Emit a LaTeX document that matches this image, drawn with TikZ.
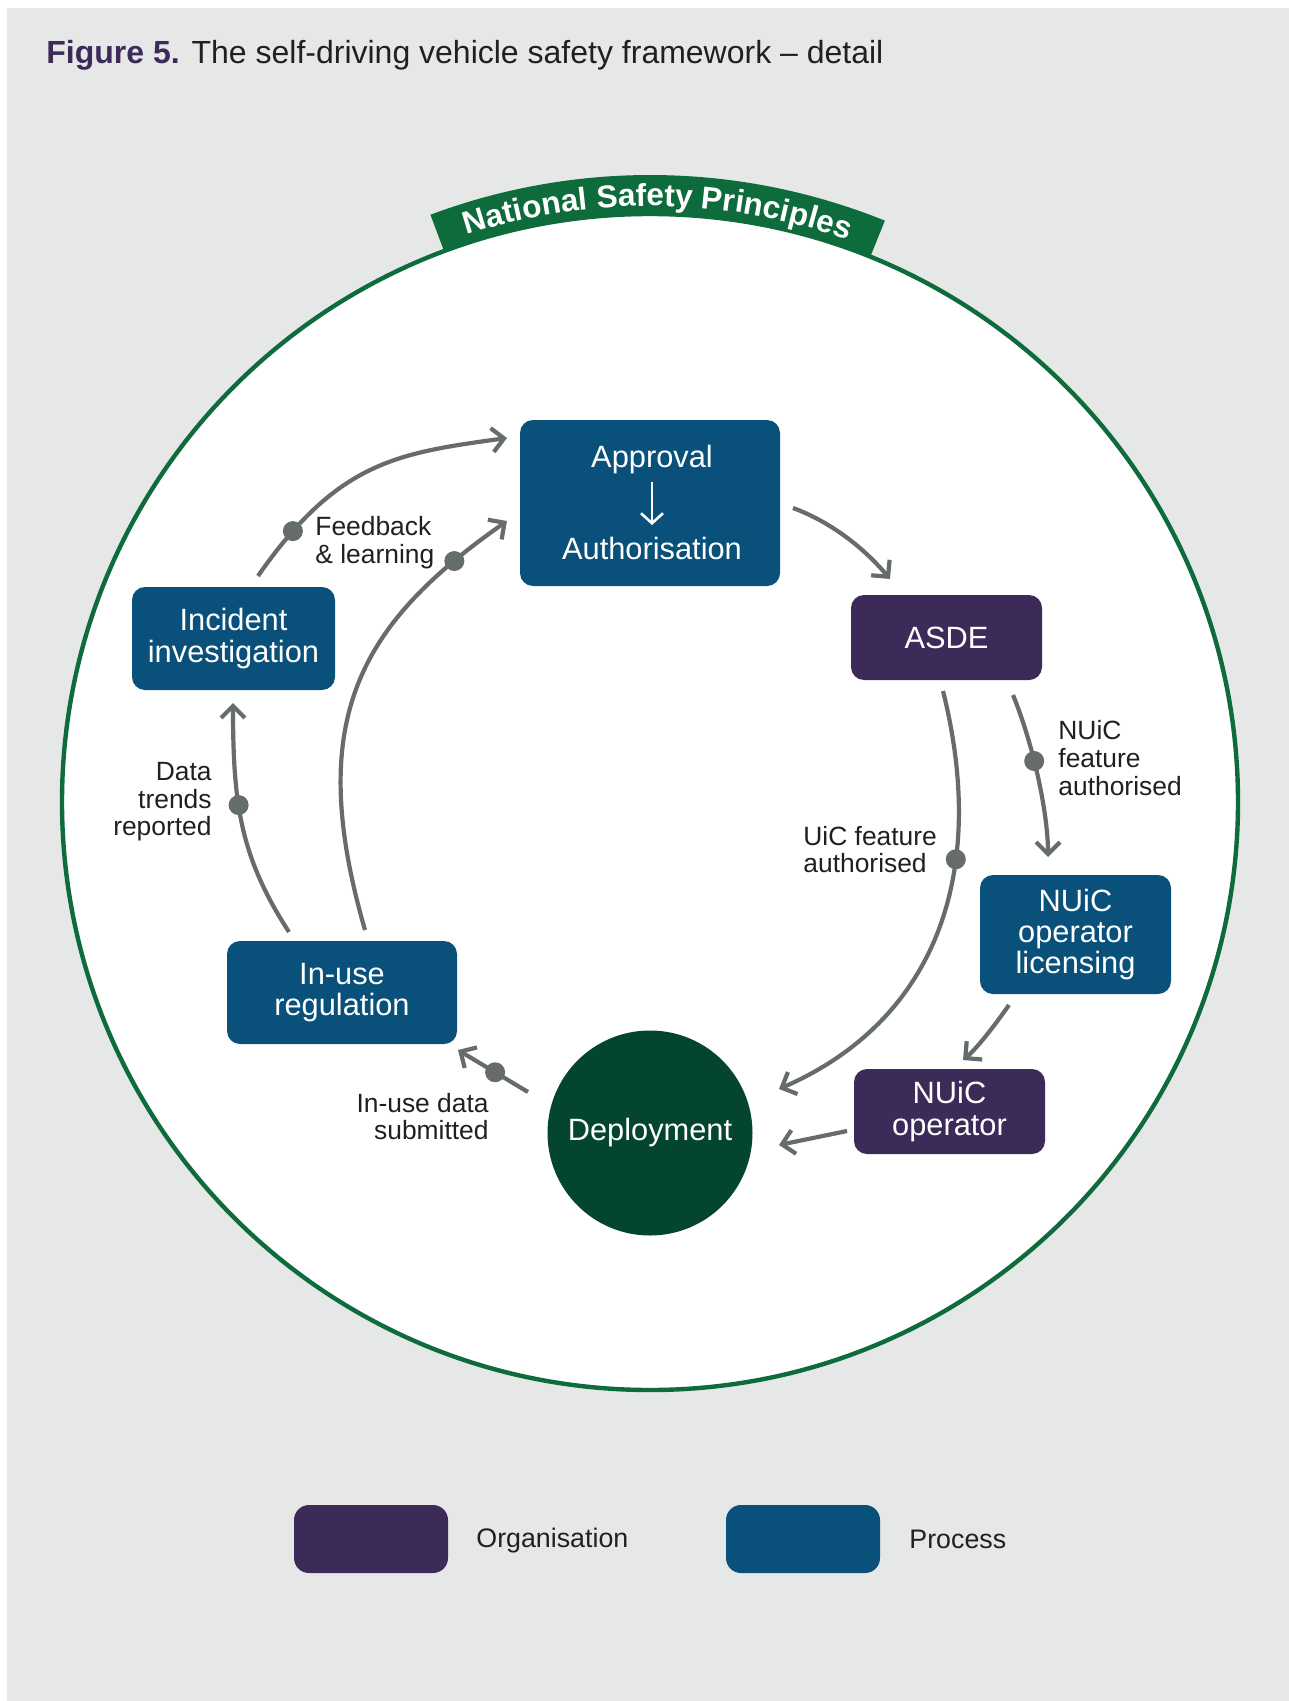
\documentclass[tikz,border=0pt]{standalone}
\usepackage{fontspec}
\setmainfont{Liberation Sans}
\usetikzlibrary{arrows.meta,calc,decorations.text}
\definecolor{bggrey}{RGB}{230,232,231}
\definecolor{ringgreen}{RGB}{14,107,60}
\definecolor{depgreen}{RGB}{4,69,50}
\definecolor{procblue}{RGB}{9,80,122}
\definecolor{orgpurple}{RGB}{60,42,88}
\definecolor{linegrey}{RGB}{102,108,108}
\definecolor{textdark}{RGB}{35,31,32}
\newcommand\myNodeFont{\fontsize{15.4}{15.7}\selectfont}
\newcommand\myLblFont{\fontsize{13.2}{13.8}\selectfont}
\begin{document}
\begin{tikzpicture}[x=0.5pt,y=0.5pt,
  box/.style={rectangle, rounded corners=6.5pt, inner sep=0pt, align=center, text=white, font=\myNodeFont},
  proc/.style={box, fill=procblue},
  org/.style={box, fill=orgpurple},
  conn/.style={draw=linegrey, line width=2.1pt, -{Straight Barb[length=6pt,width=12pt]}},
  gdot/.style={circle, fill=linegrey, inner sep=0pt, minimum size=10pt},
  lbl/.style={font=\myLblFont, text=textdark, inner sep=0pt},
  legbox/.style={rounded corners=7.5pt, minimum width=77pt, minimum height=34pt, inner sep=0pt}
]
\useasboundingbox (0,0) rectangle (1289,-1701);
\fill[bggrey] (7,-8) rectangle (1289,-1701);

% title
\node[anchor=base west, inner sep=0pt] (title) at (46,-64)
  {\fontsize{16}{19}\selectfont\textcolor{orgpurple}{\bfseries Figure 5.} \textcolor{textdark}{The self-driving vehicle safety framework – detail}};

% ring
\coordinate (cc) at (650,-802);
\draw[ringgreen, line width=2.2pt, fill=white] (cc) circle[radius=588];
\fill[ringgreen] ($(cc)+(68:588)$) arc[start angle=68, end angle=110.5, radius=588]
  -- ($(cc)+(110.5:627)$) arc[start angle=110.5, end angle=68, radius=627] -- cycle;
\path[decorate, decoration={text along path, text align=center, text color=white,
  text={|\bfseries\fontsize{15.8}{16}\selectfont|National Safety Principles}}]
  ($(cc)+(110.5:596)$) arc[start angle=110.5, end angle=68, radius=596];

% nodes
\node[proc, minimum width=130pt, minimum height=83pt] (app) at (650,-503) {};
\node[box, inner sep=0pt] (apv) at (652,-460) {Approval};
\node[box, inner sep=0pt] (aut) at (652,-548) {Authorisation};
\draw[white, line width=1.3pt, -{Straight Barb[length=5pt,width=11pt]}, shorten <=11pt, shorten >=11.5pt]
  (apv.center) -- (aut.center);

\node[org, minimum width=95.5pt, minimum height=42.5pt] (asde) at (946.5,-637.5) {ASDE};
\node[proc, minimum width=95.5pt, minimum height=59.5pt] (lic) at (1075.5,-934.5) {NUiC\\operator\\licensing};
\node[org, minimum width=95.5pt, minimum height=42.5pt] (op) at (949.5,-1111.5) {NUiC\\operator};
\node[circle, fill=depgreen, minimum size=102.5pt, inner sep=0pt, text=white, font=\myNodeFont] (dep) at (650,-1133) {Deployment};
\node[proc, minimum width=115pt, minimum height=51.5pt] (reg) at (342,-992.5) {In-use\\regulation};
\node[proc, minimum width=101.5pt, minimum height=51.5pt] (inc) at (233.5,-638.5) {Incident\\investigation};

% connectors
\draw[conn] ($(inc)+(24.5,62.5)$) .. controls +(80,115) and +(-109,-15) .. ($(app)+(-143,65)$)
  node[gdot, pos=0.15] (d1) {};
\draw[conn] ($(reg)+(23,62.5)$) .. controls +(-61,211) and +(-147,-103) .. ($(app)+(-143,-18)$)
  node[gdot, pos=0.87] (d2) {};
\draw[conn] ($(reg)+(-53,60.5)$) .. controls +(-49,75.5) and +(0,-100) .. ($(inc)+(-0.5,-64.5)$)
  node[gdot, pos=0.6] (d3) {};
\draw[conn] ($(dep)+(-122,41)$) -- ($(reg)+(116,-57.5)$)
  node[gdot, pos=0.47] (d4) {};
\draw[conn] ($(app)+(143,-5)$) .. controls +(38,-14) and +(-26,31) .. ($(asde)+(-56.5,58.5)$);
\draw[conn] ($(asde)+(-3.5,-53.5)$) .. controls +(46,-184) and +(156,68) .. ($(dep)+(129,44)$)
  node[gdot, pos=0.33] (d5) {};
\draw[conn] ($(asde)+(66.5,-57.5)$) .. controls +(22.5,-55.6) and +(0,40) .. ($(lic)+(-27.5,77.5)$)
  node[gdot, pos=0.38] (d6) {};
\draw[conn] ($(lic)+(-66.5,-70.5)$) .. controls +(-11.5,-16.4) and +(15.3,12.9) .. ($(op)+(13.5,51.5)$);
\draw[conn] ($(op)+(-102.5,-19.5)$) -- ($(dep)+(129,-12)$);

% labels
\node[lbl, anchor=west, align=left] (lfb) at (315,-542.5) {Feedback\\\& learning};
\node[lbl, anchor=east, align=right] (ldt) at (212,-802) {Data\\trends\\reported};
\node[lbl, anchor=west, align=left] (lnf) at (1058,-758) {NUiC\\feature\\authorised};
\node[lbl, anchor=west, align=left] (luf) at (803,-849.5) {UiC feature\\authorised};
\node[lbl, anchor=east, align=right] (lid) at (489,-1116.5) {In-use data\\submitted};

% legend
\node[legbox, fill=orgpurple] (legorg) at (371,-1539) {};
\node[lbl, anchor=west, font=\fontsize{13.4}{14}\selectfont] (legorgt) at (476,-1541) {Organisation};
\node[legbox, fill=procblue] (legproc) at (803,-1539) {};
\node[lbl, anchor=west, font=\fontsize{13.4}{14}\selectfont] (legproct) at (909,-1539) {Process};
\end{tikzpicture}
\end{document}
